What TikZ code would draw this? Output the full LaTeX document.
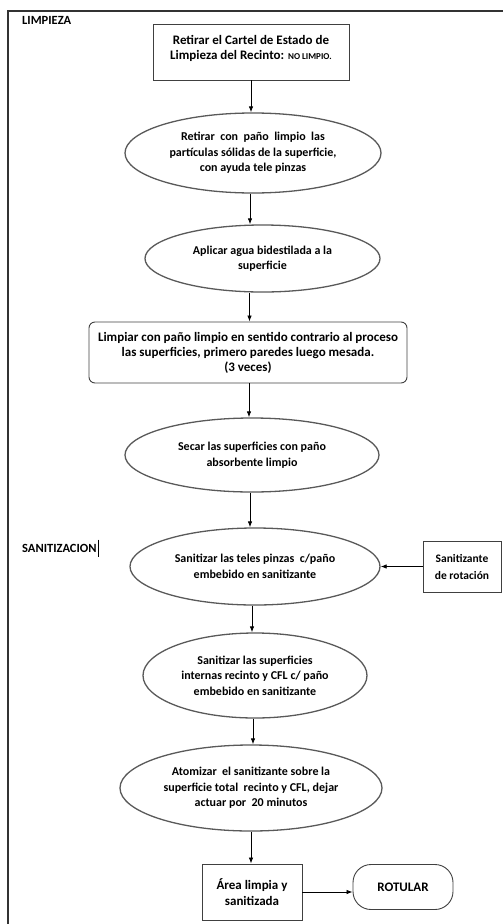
\documentclass[tikz,border=0pt]{standalone}
\usepackage{fontspec}
\setmainfont{Carlito}
\usetikzlibrary{arrows.meta,shapes.geometric,calc}
\tikzset{
  every node/.style={font=\bfseries},
  frame/.style={draw=black!80, line width=1.8pt},
  ovalbox/.style={ellipse, draw=black!65, line width=1.3pt, inner sep=0pt, align=center,
    font=\bfseries\fontsize{12}{15.5}\selectfont},
  sqbox/.style={rectangle, draw=black!75, line width=0.9pt, inner sep=0pt, align=center,
    font=\bfseries\fontsize{13}{14.5}\selectfont},
  rbox/.style={sqbox, rounded corners=6pt},
  flow/.style={draw=black, line width=0.8pt, -{Latex[length=6pt,width=4.5pt]}},
  seclabel/.style={anchor=west, inner sep=0pt, font=\bfseries\fontsize{12.5}{14}\selectfont}
}
\begin{document}
\begin{tikzpicture}[x=1pt,y=-1pt]
\useasboundingbox (0,0) rectangle (503,924);
\draw[frame] (503,11) -- (8,11) -- (8,924);

\node[seclabel] (limp) at (22,20) {LIMPIEZA};
\node[seclabel] (sanit) at (22,548) {SANITIZACION};
\coordinate (cur1) at ([xshift=2pt,yshift=4pt]sanit.north east);
\coordinate (cur2) at ([xshift=2pt,yshift=-5pt]sanit.south east);
\draw[line width=1.4pt] (cur1) -- (cur2);

\node[sqbox, minimum width=196pt, minimum height=56pt] (b1) at (251,52) {};
\node[inner sep=0pt, align=center, font=\bfseries\fontsize{13}{14.5}\selectfont] (b1t) at (251,48.5)
  {Retirar el Cartel de Estado de\\Limpieza del Recinto: {\fontsize{9}{10}\selectfont NO LIMPIO.}};
\node[ovalbox, minimum width=256pt, minimum height=80pt] (e2) at (253,153)
  {Retirar\ \ con\ \ paño\ \ limpio\ \ las\\partículas sólidas de la superficie,\\con ayuda tele pinzas};
\node[ovalbox, minimum width=235pt, minimum height=67pt] (e3) at (262.5,258.5)
  {Aplicar agua bidestilada a la\\superficie};
\node[rbox, minimum width=318pt, minimum height=61pt, font=\bfseries\fontsize{13}{15}\selectfont] (r4) at (248,352.5)
  {Limpiar con paño limpio en sentido contrario al proceso\\las superficies, primero paredes luego mesada.\\(3 veces)};
\node[ovalbox, minimum width=254pt, minimum height=74pt] (e5) at (252,455)
  {Secar las superficies con paño\\absorbente limpio};
\node[ovalbox, minimum width=250pt, minimum height=77pt] (e6) at (255,566.5)
  {Sanitizar las teles pinzas\ \ c/paño\\embebido en sanitizante};
\node[sqbox, minimum width=78pt, minimum height=51pt, font=\bfseries\fontsize{11.5}{17}\selectfont] (sr) at (462,566.5)
  {Sanitizante\\de rotación};
\node[ovalbox, minimum width=224pt, minimum height=85pt] (e7) at (255,675.5)
  {Sanitizar las superficies\\internas recinto y CFL c/ paño\\embebido en sanitizante};
\node[ovalbox, minimum width=262pt, minimum height=86pt] (e8) at (251,788)
  {Atomizar\ \ el sanitizante sobre la\\superficie total\ \ recinto y CFL, dejar\\actuar por\ \ 20 minutos};
\node[sqbox, minimum width=100pt, minimum height=56pt, font=\bfseries\fontsize{13}{16}\selectfont] (b9) at (252,892)
  {Área limpia y\\sanitizada};
\node[sqbox, rounded corners=18pt, minimum width=100pt, minimum height=45pt] (rot) at (403,887)
  {ROTULAR};

\draw[flow] (b1.south) -- (b1.south |- e2.north);
\draw[flow] ([xshift=-3pt]e2.south) -- ([xshift=-3pt]e2.south |- e3.north);
\draw[flow] ([xshift=-13pt]e3.south) -- ([xshift=-13pt]e3.south |- r4.north);
\draw[flow] ([xshift=1pt]r4.south) -- ([xshift=1pt]r4.south |- e5.north);
\draw[flow] ([xshift=-2pt]e5.south) -- ([xshift=-2pt]e5.south |- e6.north);
\draw[flow] (sr.west) -- (e6.east);
\draw[flow] ([xshift=-3pt]e6.south) -- ([xshift=-3pt]e6.south |- e7.north);
\draw[flow] ([xshift=-2pt]e7.south) -- ([xshift=-2pt]e7.south |- e8.north);
\draw[flow] (e8.south) -- (e8.south |- b9.north);
\draw[flow] (b9.east) -- (b9.east -| rot.west);
\end{tikzpicture}
\end{document}
